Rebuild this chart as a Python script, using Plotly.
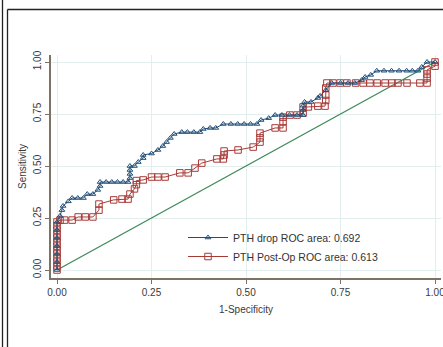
import plotly.graph_objects as go

# PTH drop ROC curve (1-specificity, sensitivity)
drop_fpr = [0.000, 0.000, 0.000, 0.000, 0.000, 0.000, 0.000, 0.008, 0.013, 0.016, 0.030, 0.040, 0.055, 0.070,
            0.080, 0.095, 0.108, 0.114, 0.114, 0.130, 0.145, 0.160, 0.175, 0.188, 0.193, 0.193, 0.193, 0.193,
            0.205, 0.215, 0.228, 0.228, 0.250, 0.267, 0.280, 0.290, 0.300, 0.310, 0.330, 0.345, 0.362, 0.378,
            0.387, 0.405, 0.420, 0.440, 0.460, 0.478, 0.495, 0.512, 0.529, 0.540, 0.560, 0.577, 0.595, 0.615,
            0.635, 0.651, 0.651, 0.651, 0.655, 0.672, 0.690, 0.696, 0.711, 0.727, 0.750, 0.770, 0.788, 0.806,
            0.815, 0.830, 0.846, 0.865, 0.885, 0.905, 0.925, 0.940, 0.955, 0.965, 0.979, 1.000]
drop_tpr = [0.000, 0.038, 0.077, 0.115, 0.154, 0.192, 0.231, 0.260, 0.288, 0.308, 0.330, 0.346, 0.346, 0.346,
            0.365, 0.365, 0.385, 0.404, 0.423, 0.423, 0.423, 0.423, 0.423, 0.423, 0.442, 0.462, 0.481, 0.500,
            0.500, 0.519, 0.538, 0.553, 0.560, 0.577, 0.596, 0.615, 0.635, 0.654, 0.663, 0.663, 0.663, 0.663,
            0.678, 0.683, 0.683, 0.702, 0.702, 0.702, 0.702, 0.702, 0.702, 0.721, 0.730, 0.745, 0.745, 0.745,
            0.745, 0.745, 0.769, 0.790, 0.808, 0.808, 0.827, 0.837, 0.865, 0.899, 0.899, 0.899, 0.899, 0.913,
            0.928, 0.938, 0.958, 0.958, 0.958, 0.958, 0.958, 0.958, 0.958, 0.976, 1.000, 1.000]

# PTH Post-Op ROC curve
post_fpr = [0.000, 0.000, 0.000, 0.000, 0.000, 0.000, 0.000, 0.000, 0.000, 0.000, 0.000, 0.000, 0.000,
            0.008, 0.020, 0.040, 0.056, 0.075, 0.095, 0.111, 0.111, 0.150, 0.172, 0.188, 0.193, 0.205, 0.210,
            0.210, 0.228, 0.250, 0.267, 0.286, 0.325, 0.347, 0.365, 0.383, 0.423, 0.440, 0.442, 0.442, 0.479,
            0.519, 0.537, 0.537, 0.537, 0.577, 0.598, 0.598, 0.598, 0.616, 0.635, 0.651, 0.651, 0.665, 0.690,
            0.709, 0.711, 0.711, 0.711, 0.714, 0.730, 0.749, 0.767, 0.790, 0.810, 0.828, 0.847, 0.868, 0.886,
            0.902, 0.926, 0.960, 0.979, 0.979, 0.979, 0.979, 1.000, 1.000]
post_tpr = [0.000, 0.019, 0.038, 0.058, 0.077, 0.096, 0.115, 0.135, 0.154, 0.173, 0.192, 0.212, 0.231,
            0.240, 0.240, 0.240, 0.255, 0.255, 0.255, 0.288, 0.317, 0.337, 0.341, 0.341, 0.365, 0.390, 0.410,
            0.430, 0.433, 0.447, 0.447, 0.447, 0.467, 0.467, 0.490, 0.514, 0.534, 0.534, 0.553, 0.572, 0.577,
            0.591, 0.615, 0.635, 0.658, 0.683, 0.683, 0.712, 0.735, 0.745, 0.745, 0.755, 0.784, 0.784, 0.788,
            0.788, 0.815, 0.841, 0.875, 0.899, 0.899, 0.899, 0.899, 0.899, 0.899, 0.899, 0.899, 0.899, 0.899,
            0.899, 0.899, 0.899, 0.899, 0.923, 0.942, 0.962, 0.980, 1.000]

ref_x = [0, 1]
ref_y = [0, 1]

legend_names = ["PTH drop ROC area: 0.692", "PTH Post-Op ROC area: 0.613"]
tick_vals = [0, 0.25, 0.5, 0.75, 1.0]
tick_text = ["0.00", "0.25", "0.50", "0.75", "1.00"]

BLUE = "#1f4e79"
RED = "#a83a36"
GREEN = "#3f8a5a"
AXIS = "#7d7263"
GRID = "#e3eeee"
FONT = "Liberation Sans, Arial, sans-serif"

fig = go.Figure()
fig.add_trace(go.Scatter(x=ref_x, y=ref_y, mode="lines", line=dict(color=GREEN, width=1.3),
                         showlegend=False, hoverinfo="skip"))
fig.add_trace(go.Scatter(x=post_fpr, y=post_tpr, mode="lines+markers", name=legend_names[1],
                         line=dict(color=RED, width=1),
                         marker=dict(symbol="square-open", size=6.5, color=RED, line=dict(width=1))))
fig.add_trace(go.Scatter(x=drop_fpr, y=drop_tpr, mode="lines+markers", name=legend_names[0],
                         line=dict(color=BLUE, width=1),
                         marker=dict(symbol="triangle-up-open", size=5, color=BLUE, line=dict(width=1))))

# plot area: px x 51..441, y 55..278
L, R, T, B = 51, 441, 55, 278
W, H = 443, 347
pw, ph = R - L, B - T


def px_x(px):
    return (px - L) / pw


def px_y(py):
    return (B - py) / ph


shapes = [
    dict(type="line", xref="paper", yref="paper", x0=px_x(2.5), x1=px_x(2.5), y0=px_y(0), y1=px_y(347),
         line=dict(color="#222222", width=1.3)),
    dict(type="line", xref="paper", yref="paper", x0=px_x(7.5), x1=px_x(7.5), y0=px_y(9.5), y1=px_y(347),
         line=dict(color="#222222", width=1.3)),
    dict(type="line", xref="paper", yref="paper", x0=px_x(7.5), x1=px_x(443), y0=px_y(9.5), y1=px_y(9.5),
         line=dict(color="#222222", width=1.3)),
]

fig.update_layout(
    width=W, height=H,
    margin=dict(l=L, r=W - R, t=T, b=H - B, pad=0),
    paper_bgcolor="white", plot_bgcolor="white",
    font=dict(family=FONT, size=10, color="#3a3a3a"),
    shapes=shapes,
    legend=dict(x=px_x(183), y=px_y(223), xanchor="left", yanchor="top",
                bgcolor="rgba(0,0,0,0)", font=dict(size=10.5, color="#333333"),
                traceorder="reversed", tracegroupgap=0, itemwidth=40),
    xaxis=dict(range=[-6 / 378, (R - 57) / 378], tickvals=tick_vals, ticktext=tick_text,
               showgrid=True, gridcolor=GRID, gridwidth=1, zeroline=False,
               showline=True, linecolor=AXIS, linewidth=1.5,
               ticks="outside", ticklen=4, tickcolor=AXIS, tickwidth=1,
               title=dict(text="1-Specificity", font=dict(size=10), standoff=9),
               tickfont=dict(size=10), automargin=False, ticklabeloverflow="allow"),
    yaxis=dict(range=[-(B - 270) / 208, (270 - T) / 208], tickvals=tick_vals, ticktext=tick_text,
               showgrid=True, gridcolor=GRID, gridwidth=1, zeroline=False,
               showline=True, linecolor=AXIS, linewidth=1.5,
               ticks="outside", ticklen=4, tickcolor=AXIS, tickwidth=1, tickangle=-90,
               title=dict(text="Sensitivity", font=dict(size=10), standoff=4),
               tickfont=dict(size=10), automargin=False, ticklabeloverflow="allow"),
)

fig.write_html("out.html", config={"displayModeBar": False},
               post_script="document.body.style.margin='0';document.body.style.overflow='hidden';")
